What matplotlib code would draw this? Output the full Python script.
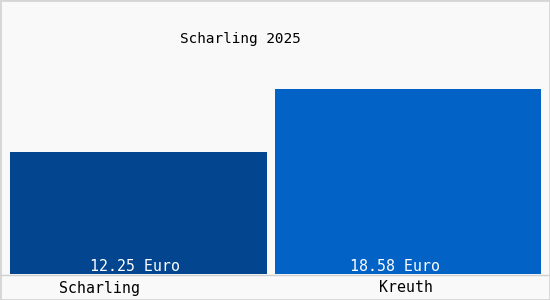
import matplotlib.pyplot as plt
from matplotlib.patches import Rectangle

# Data
places = ["Scharling", "Kreuth"]
prices = [12.25, 18.58]
value_labels = ["12.25 Euro", "18.58 Euro"]
title = "Scharling 2025"
colors = ["#03468f", "#0362c6"]

plt.rcParams["font.family"] = ["DejaVu Sans Mono"]

fig = plt.figure(figsize=(5.5, 3.0), dpi=100, facecolor="#f9f9f9")
W, H = 550, 300

# axes in pixel terms: x 10..541, y 20..274
ax = fig.add_axes([10 / W, (H - 274) / H, 531 / W, 254 / H])
ax.patch.set_alpha(0)

xs = range(len(places))
ax.bar(xs, prices, width=[0.9536, 0.987], color=colors)
ax.set_xlim(-0.4768, 1.4935)
ax.set_ylim(0, 25.5)
for s in ax.spines.values():
    s.set_visible(False)
ax.set_xticks([])
ax.set_yticks([])

# value labels inside the bars
offsets = [-0.013, -0.048]
for x, lab, off in zip(xs, value_labels, offsets):
    ax.text(x + off, 0.05, lab, ha="center", va="bottom", color="white",
            fontsize=10.7)

# category labels below
cat_x = [100, 406]
for cx, name in zip(cat_x, places):
    fig.text(cx / W, 1 - 288 / H, name, ha="center", va="center",
             fontsize=10.7, color="black")

fig.text(240 / W, 1 - 39 / H, title, ha="center", va="center", fontsize=10.4)

# baseline and border
fig.add_artist(plt.Line2D([0, 1], [1 - 274.5 / H] * 2, color="#d0d0d0", lw=1))
fig.add_artist(Rectangle((0, 0), 1, 1, transform=fig.transFigure, fill=False,
                         edgecolor="#d6d6d6", lw=2))

fig.savefig("out.png", dpi=100, facecolor=fig.get_facecolor())
